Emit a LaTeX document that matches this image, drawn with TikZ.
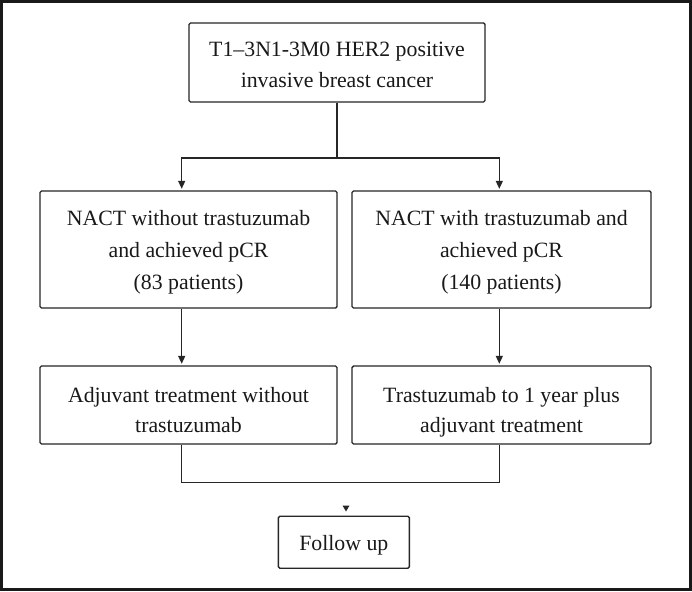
\documentclass[tikz,border=0pt]{standalone}
\usepackage{fontspec}
\setmainfont{Liberation Serif}
\usetikzlibrary{arrows.meta}
\tikzset{
  box/.style={draw=black!85, line width=1.4pt, rounded corners=1.5pt, inner sep=0pt, anchor=center},
  txt/.style={align=center, inner sep=0pt, text=black!90, anchor=center},
  link/.style={draw=black!85, line width=1.4pt},
  arr/.style={link, -{Triangle[width=7pt,length=8pt]}, shorten >=1.5pt},
}
\begin{document}
\begin{tikzpicture}[x=1pt,y=-1pt]
\useasboundingbox (0,0) rectangle (692,591);
\fill[black!90] (0,0) rectangle (692,591);
\fill[white] (2.7,2.7) rectangle (689.3,588);

% boxes
\node[box, minimum width=296pt, minimum height=79pt] (top) at (337,62.5) {};
\node[box, minimum width=297pt, minimum height=117pt] (midL) at (188.5,249.5) {};
\node[box, minimum width=299pt, minimum height=117pt] (midR) at (501.5,249.5) {};
\node[box, minimum width=297pt, minimum height=78pt] (botL) at (188.5,405) {};
\node[box, minimum width=299pt, minimum height=78pt] (botR) at (501.5,405) {};
\node[box, minimum width=131pt, minimum height=52pt] (fup) at (343.8,542.2) {};

% texts
\node[txt, font=\fontsize{21.8}{31}\selectfont] (ttop) at ([yshift=-3.8pt]top.center)
  {\strut T1–3N1-3M0 HER2 positive\\ invasive breast cancer\strut};
\node[txt, font=\fontsize{21.8}{32}\selectfont] (tmidL) at ([yshift=-1.1pt]midL.center)
  {\strut NACT without trastuzumab\\ and achieved pCR\\ (83 patients)\strut};
\node[txt, font=\fontsize{21.8}{32}\selectfont] (tmidR) at ([yshift=-1.1pt]midR.center)
  {\strut NACT with trastuzumab and\\ achieved pCR\\ (140 patients)\strut};
\node[txt, font=\fontsize{21.8}{30}\selectfont] (tbotL) at ([yshift=-6pt]botL.center)
  {\strut Adjuvant treatment without\\ trastuzumab\strut};
\node[txt, font=\fontsize{21.8}{30}\selectfont] (tbotR) at ([yshift=-6pt]botR.center)
  {\strut Trastuzumab to 1 year plus\\ adjuvant treatment\strut};
\node[txt, font=\fontsize{21.8}{32}\selectfont] (tfup) at ([yshift=-1.4pt]fup.center)
  {\strut Follow up};

% connectors
\coordinate (split) at (337,158);
\coordinate (sL) at (181.7,158);
\coordinate (sR) at (499.3,158);
\coordinate (mL) at (181.7,482.7);
\coordinate (mR) at (499.3,482.7);
\draw[link] (top.south) -- (split);
\draw[arr] (split) -- (sL) -- (sL |- midL.north);
\draw[arr] (split) -- (sR) -- (sR |- midR.north);
\draw[arr] (sL |- midL.south) -- (sL |- botL.north);
\draw[arr] (sR |- midR.south) -- (sR |- botR.north);
\draw[link] (sL |- botL.south) -- (mL) -- (mR) -- (sR |- botR.south);

% small floating arrowhead above Follow up
\fill[black!85] (342.5,505.5) -- (349.5,505.5) -- (346,511.5) -- cycle;
\end{tikzpicture}
\end{document}
